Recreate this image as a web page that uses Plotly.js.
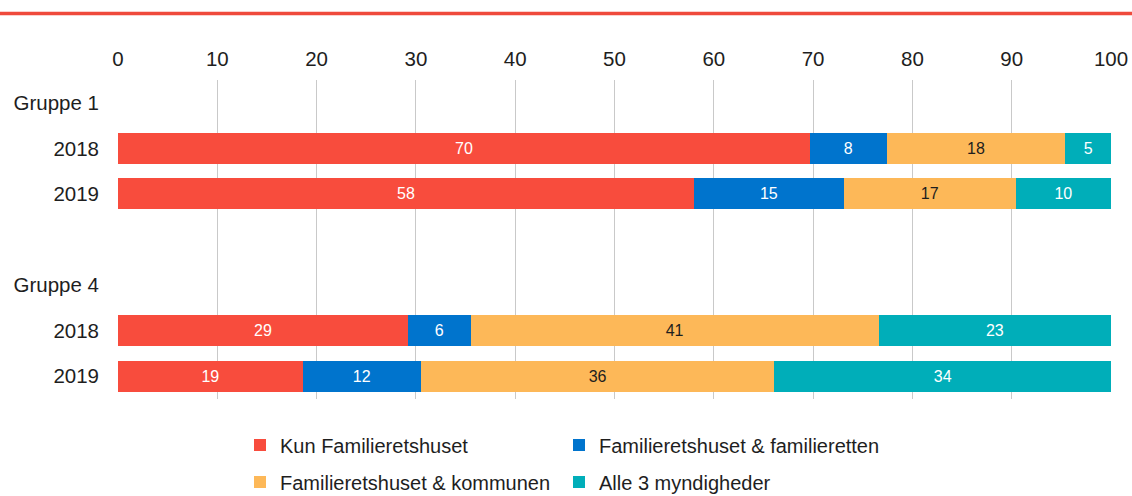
<!DOCTYPE html>
<html>
<head>
<meta charset="utf-8">
<script src="https://cdn.plot.ly/plotly-3.0.1.min.js"></script>
<style>html,body{margin:0;padding:0;background:#fff;}#chart{width:1132px;height:496px;}</style>
</head>
<body>
<div id="chart"></div>
<script>
// Category rows (top to bottom)
const rowLabels = ["Gruppe 1", "2018", "2019", "", "Gruppe 4", "2018", "2019"];
const barRows = [1, 2, 5, 6];

// Series (percent), rows: Gruppe 1 2018, Gruppe 1 2019, Gruppe 4 2018, Gruppe 4 2019
const seriesNames = ["Kun Familieretshuset", "Familieretshuset & familieretten", "Familieretshuset & kommunen", "Alle 3 myndigheder"];
const kunFamilieretshuset = [69.7, 58.0, 29.2, 18.6];
const familieretten = [7.7, 15.1, 6.3, 11.9];
const kommunen = [18.0, 17.3, 41.1, 35.6];
const alle3 = [4.6, 9.6, 23.4, 33.9];

const xTicks = [0, 10, 20, 30, 40, 50, 60, 70, 80, 90, 100];

const colors = ["#F84C3D", "#0074CD", "#FDB858", "#00AEB9"];
const textColors = ["#ffffff", "#ffffff", "#1e1e1e", "#ffffff"];
const seriesValues = [kunFamilieretshuset, familieretten, kommunen, alle3];
const legendIds = ["legend", "legend2", "legend3", "legend4"];

const FONT = "'Liberation Sans', Arial, sans-serif";

const traces = seriesValues.map((vals, i) => ({
  type: "bar",
  orientation: "h",
  name: seriesNames[i],
  x: vals,
  y: barRows,
  width: 0.68,
  marker: {color: colors[i], line: {width: 0}},
  texttemplate: "%{x:.0f}",
  textposition: "inside",
  insidetextanchor: "middle",
  textangle: 0,
  textfont: {family: FONT, size: 16, color: textColors[i]},
  legend: legendIds[i],
  hoverinfo: "name+x"
}));

function legendAt(xPx, yPx) {
  return {
    orientation: "h",
    xref: "container", yref: "container",
    x: xPx / 1132, y: 1 - yPx / 496,
    xanchor: "left", yanchor: "middle",
    font: {family: FONT, size: 20, color: "#1e1e1e"},
    bgcolor: "rgba(0,0,0,0)",
    borderwidth: 0
  };
}

const layout = {
  width: 1132,
  height: 496,
  margin: {l: 118, r: 21, t: 80, b: 97},
  barmode: "stack",
  paper_bgcolor: "#ffffff",
  plot_bgcolor: "#ffffff",
  font: {family: FONT, color: "#1e1e1e"},
  showlegend: true,
  xaxis: {
    side: "top",
    range: [0, 100],
    tickvals: xTicks,
    ticktext: xTicks.map(String),
    showgrid: true,
    gridcolor: "#c9c9c9",
    gridwidth: 1,
    zeroline: false,
    showline: false,
    ticks: "",
    ticklabelstandoff: 9,
    tickfont: {family: FONT, size: 20.5, color: "#1e1e1e"},
    fixedrange: true
  },
  yaxis: {
    range: [6.5, -0.5],
    tickvals: rowLabels.map((_, i) => i),
    ticktext: rowLabels,
    showgrid: false,
    zeroline: false,
    showline: false,
    ticks: "",
    ticklabelstandoff: 18,
    tickfont: {family: FONT, size: 20.5, color: "#1e1e1e"},
    fixedrange: true
  },
  legend: legendAt(240, 445),
  legend2: legendAt(559, 445),
  legend3: legendAt(240, 482),
  legend4: legendAt(559, 482),
  shapes: [{
    type: "line",
    xref: "paper", yref: "paper",
    x0: -118 / 993, x1: 1014 / 993,
    y0: (399 - 13.5) / 319, y1: (399 - 13.5) / 319,
    line: {color: "#EF4A3C", width: 3.5}
  }]
};

Plotly.newPlot("chart", traces, layout, {displayModeBar: false});
</script>
</body>
</html>
